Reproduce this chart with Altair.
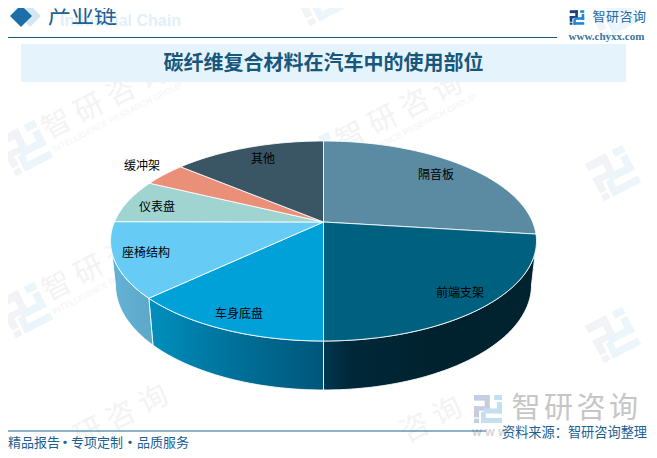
import math
import altair as alt

# ---- chart values ----
categories = ["隔音板", "前端支架", "车身底盘", "座椅结构", "仪表盘", "缓冲架", "其他"]
shares = [23.9, 26.1, 15.3, 12.8, 6.7, 3.5, 11.7]
top_colors = ["#5b8ba3", "#006080", "#00a0d8", "#66ccf5", "#9fd4d0", "#ea8f78", "#3a5563"]
label_x = [436, 460, 239, 146, 157, 142, 263]
label_y = [175, 293, 314, 253, 207, 166, 159]
wall_stops = {
    1: [(0, "#00384f"), (0.12, "#00283a"), (0.5, "#00222f"), (1, "#00232f")],
    2: [(0, "#008fbd"), (0.5, "#007099"), (1, "#00567a")],
    3: [(0, "#64b2d6"), (1, "#5ba8c8")],
}

title_text = "碳纤维复合材料在汽车中的使用部位"
FONT = "Noto Sans CJK SC"
NAVY = "#17567d"

# ---- pie geometry ----
APEX = (323.5, 222)
TOP = (323.5, 241, 213, 100)
BOT = (323.5, 285, 208, 105)


def rim(e, deg):
    t = math.radians(deg)
    return [e[0] + e[2] * math.sin(t), e[1] - e[3] * math.cos(t)]


def arc_pts(e, a, b):
    n = max(2, int(abs(b - a) / 1.5) + 2)
    return [rim(e, a + (b - a) * i / (n - 1)) for i in range(n)]


def feature(ring, fill):
    ring = ring + [ring[0]]
    return {"type": "Feature", "properties": {"fill": fill},
            "geometry": {"type": "Polygon", "coordinates": [ring]}}


def geo(features, **mark):
    return (alt.Chart(alt.Data(values=features)).mark_geoshape(**mark)
            .encode(color=alt.Color("properties.fill:N", scale=None))
            .project(type="identity", scale=1, translate=[-8, -8]))


def texts(rows, **mark):
    mark.setdefault("font", FONT)
    mark.setdefault("baseline", "middle")
    data = [{"x": r[0] - 8, "y": r[1] - 8, "t": r[2]} for r in rows]
    return alt.Chart(alt.Data(values=data)).mark_text(**mark).encode(
        x=alt.X("x:Q", scale=None, axis=None),
        y=alt.Y("y:Q", scale=None, axis=None),
        text="t:N",
    )


def spaced(s, x0, y, pitch):
    return [(x0 + i * pitch, y, c) for i, c in enumerate(s)]


def rule(x0, x1, y, color, width=1):
    d = [{"a": x0 - 8, "b": x1 - 8, "y": y - 8}]
    return alt.Chart(alt.Data(values=d)).mark_rule(color=color, strokeWidth=width).encode(
        x=alt.X("a:Q", scale=None, axis=None), x2="b:Q",
        y=alt.Y("y:Q", scale=None, axis=None))


# logo pieces in a unit box
LOGO_A = [(0, 0, .56, .2), (.38, 0, .56, .56), (0, .4, .56, .56), (0, .4, .18, .8), (0, .85, .18, 1)]
LOGO_B = [(.72, 0, 1, .18), (.82, .25, 1, .66), (.35, .48, 1, .66), (.25, .82, 1, 1), (.25, .6, .42, 1)]


def logo(cx, cy, size, angle, ca, cb):
    t = math.radians(angle)
    c, s = math.cos(t), math.sin(t)
    out = []
    for pieces, col in ((LOGO_A, ca), (LOGO_B, cb)):
        for x0, y0, x1, y1 in pieces:
            ring = []
            for px, py in ((x0, y0), (x1, y0), (x1, y1), (x0, y1)):
                u, v = (px - .5) * size, (py - .5) * size
                ring.append([cx + u * c - v * s, cy + u * s + v * c])
            out.append(feature(ring, col))
    return out


# ---- watermarks ----
layers = []
WM_ANGLE = -27
marks = [(25, -14), (25, 148), (25, 310), (25, 472), (319, -2), (319, 160), (319, 322), (319, 484),
         (613, 11), (613, 173), (613, 335)]
wm_logo, wm_chars, wm_sub = [], [], []
ca, sa = math.cos(math.radians(WM_ANGLE)), math.sin(math.radians(WM_ANGLE))
for mx, my in marks:
    wm_logo += logo(mx, my, 42, WM_ANGLE, "#f1f3f7", "#ebf5fa")
    for i, ch in enumerate("智研咨询"):
        cx, cy = mx + 32 + i * 36 * ca, my - 23 + i * 36 * sa
        if cx < 632 and 22 < cy < 436:
            wm_chars.append((cx, cy, ch))
    if mx + 92 < 590 and 60 < my - 31 < 430:
        wm_sub.append((mx + 92, my - 31, "INTELLIGENCE RESEARCH GROUP"))
layers.append(geo(wm_logo))
layers.append(texts(wm_chars, fontSize=29, color="#f3f3f3", align="center", angle=333))
layers.append(texts(wm_sub, fontSize=8.5, color="#f4f4f4", align="center", angle=333, font="Liberation Sans"))

# ---- header ----
layers.append(geo([feature([[30, 5], [41, 16], [30, 27], [19, 16]], "#d6e6f0")]))
layers.append(geo([feature([[21, 5], [32, 16], [21, 27], [10, 16]], "#1a6fa8")]))
layers.append(texts([(60, 21, "Industrial Chain")], fontSize=16, fontWeight="bold", color="#e2f0fa",
                    align="left", font="Liberation Sans"))
layers.append(texts([(48, 16, "产业链")], fontSize=23, color="#1a6298", align="left"))
layers.append(rule(8, 557, 37.5, "#1a5a80"))
layers.append(geo([feature([[21, 44], [626, 44], [626, 82], [21, 82]], "#e5f3fc")]))
layers.append(texts([(323.5, 64, title_text)], fontSize=20, fontWeight="bold", color=NAVY, align="center"))
layers.append(geo(logo(577, 17.5, 14.5, 0, "#1d3f80", "#1f88d0")))
layers.append(texts(spaced("智研咨询", 599, 17, 13.5), fontSize=13, color="#1e6aa8", align="center"))
layers.append(texts([(606.5, 37, "www.chyxx.com")], fontSize=11, fontWeight="bold", color="#3a759f",
                    align="center", font="Liberation Serif"))

# ---- pie ----
edges = [0]
for v in shares:
    edges.append(edges[-1] + v * 3.6)

for i, stops in wall_stops.items():
    a, b = max(edges[i], 90), min(edges[i + 1], 270)
    ring = arc_pts(TOP, a, b) + arc_pts(BOT, b, a)
    grad = alt.Gradient(gradient="linear", x1=0, x2=1, y1=0, y2=0,
                        stops=[alt.GradientStop(offset=o, color=c) for o, c in stops])
    layers.append(
        alt.Chart(alt.Data(values=[feature(ring, "#000")]))
        .mark_geoshape(fill=grad, stroke="white", strokeWidth=1, strokeOpacity=0.85)
        .project(type="identity", scale=1, translate=[-8, -8])
    )

slices = []
for i, c in enumerate(top_colors):
    ring = [list(APEX)] + arc_pts(TOP, edges[i], edges[i + 1])
    slices.append(feature(ring, c))
layers.append(geo(slices, stroke="white", strokeWidth=1, strokeOpacity=0.85))
layers.append(texts(list(zip(label_x, label_y, categories)), fontSize=12, color="#000000", align="center"))

# ---- footer ----
layers.append(geo(logo(488, 409, 28, 0, "#c5cde0", "#c4e0f0")))
layers.append(texts(spaced("智研咨询", 526, 409, 32.5), fontSize=29, color="#c6c6c6", align="center"))
layers.append(texts(spaced("www", 477, 432, 13), fontSize=12, fontWeight="bold", color="#d4d4d4",
                    align="center", font="Liberation Sans"))
layers.append(rule(8, 486, 431, "#1b6896"))
layers.append(texts([(502, 432.5, "资料来源：智研咨询整理")], fontSize=13.2, color="#1b6092", align="left"))
layers.append(texts([(8, 443, "精品报告"), (71, 443, "专项定制"), (137, 443, "品质服务")],
                    fontSize=13, color="#1b6092", align="left"))
layers.append(texts([(65, 443, "·"), (130, 443, "·")], fontSize=13, fontWeight="bold", color="#1b6092", align="center"))

chart = (
    alt.layer(*layers)
    .properties(width=641, height=442, padding=0, background="white",
                autosize=alt.AutoSizeParams(type="none"))
    .configure_view(stroke=None)
)
chart.save("out.html", embed_options={"renderer": "svg", "actions": False})
